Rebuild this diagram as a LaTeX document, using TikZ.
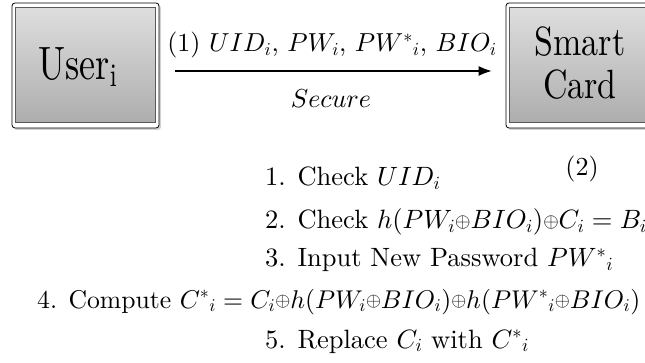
\documentclass[tikz,border=0pt]{standalone}
\usepackage{fontspec}
\setmainfont{lmroman10-regular}[Extension=.otf, ItalicFont=lmroman10-italic, BoldFont=lmroman10-bold]
\DeclareFontFamily{OML}{cmm}{\skewchar\font'177}
\DeclareFontShape{OML}{cmm}{m}{it}{<->cmmi10}{}
\DeclareFontShape{OML}{cmm}{b}{it}{<->cmmib10}{}
\DeclareFontFamily{OMS}{cmsy}{\skewchar\font'60}
\DeclareFontShape{OMS}{cmsy}{m}{n}{<->cmsy10}{}
\DeclareFontShape{OMS}{cmsy}{b}{n}{<->cmbsy10}{}
\DeclareFontFamily{OT1}{cmr}{\hyphenchar\font45 }
\DeclareFontShape{OT1}{cmr}{m}{n}{<->cmr10}{}
\DeclareFontShape{OT1}{cmr}{m}{it}{<->cmti10}{}
\DeclareFontShape{OT1}{cmr}{bx}{n}{<->cmbx10}{}
\usetikzlibrary{shadows,arrows.meta}
\newcommand{\xo}{\mathord{\raisebox{0.06em}{\scalebox{0.75}{$\oplus$}}}}
\begin{document}
\begin{tikzpicture}[x=1pt,y=-1pt,
  outerbox/.style={draw=black, line width=0.8pt, rounded corners=3pt, fill=white,
    minimum width=147pt, minimum height=125pt, inner sep=0pt,
    drop shadow={shadow xshift=2pt, shadow yshift=-2pt, fill=black!35}},
  innerbox/.style={draw=black!65, line width=1.4pt, top color=black!13, bottom color=black!32,
    minimum width=140pt, minimum height=115pt, inner sep=0pt},
  steptext/.style={anchor=base west, inner sep=0pt, font=\fontsize{26.5}{32}\selectfont},
  lbl/.style={inner sep=0pt, font=\fontsize{26}{32}\selectfont},
  arr/.style={-{Latex[length=13pt,width=10pt]}, line width=1.1pt}]
\useasboundingbox (0,0) rectangle (645,363);
% User box
\node[outerbox] (uo) at (85.5,65.5) {};
\node[innerbox] (ui) at (85.5,65) {};
\node[inner sep=0pt] (user) at (78,67) {\scalebox{1}[1.3]{\fontsize{36}{40}\selectfont User$_{\mathrm{i}}$}};
% Smart card box
\node[outerbox] (so) at (579.5,65.5) {};
\node[innerbox] (si) at (579.5,65) {};
\node[inner sep=0pt, align=center] (card) at (580,68) {\scalebox{1}[1.2]{\fontsize{34}{38}\selectfont\begin{tabular}{@{}c@{}}Smart\\[-2pt]Card\end{tabular}}};
% arrow
\draw[arr] ([yshift=-5.5pt]uo.east) -- ([yshift=-5.5pt]so.west)
  [shorten <=16pt, shorten >=14pt];
\node[lbl, anchor=base] (msg) at (332,52) {(1) $UID_i$, $PW_i$, $PW^*{}_i$, $BIO_i$};
\node[lbl, anchor=base] (sec) at (331,108) {$Secure$};
\node[lbl, anchor=base] (two) at (582,176) {(2)};
% steps
\node[steptext] (s1) at (265,186) {1. Check $UID_i$};
\node[steptext] (s2) at (265,229) {2. Check $h(PW_i\xo BIO_i)\xo C_i = B_i$};
\node[steptext] (s3) at (265,267) {3. Input New Password $PW^*{}_i$};
\node[steptext] (s4) at (37,308) {\resizebox{603pt}{!}{4. Compute $C^*{}_i = C_i\xo h(PW_i\xo BIO_i)\xo h(PW^*{}_i\xo BIO_i)$}};
\node[steptext] (s5) at (265,348) {5. Replace $C_i$ with $C^*{}_i$};
\end{tikzpicture}
\end{document}
